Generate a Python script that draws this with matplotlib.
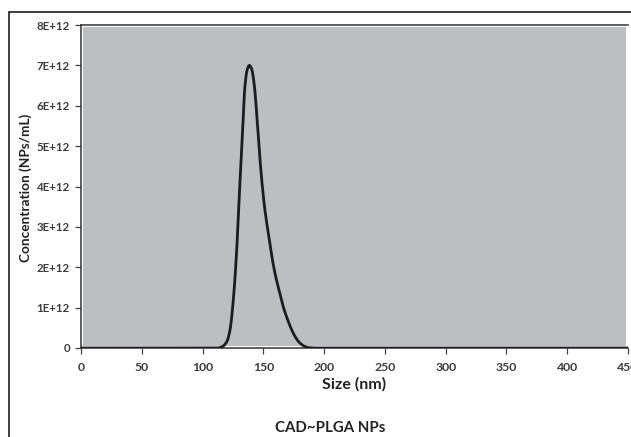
import numpy as np
import matplotlib
matplotlib.use("Agg")
import matplotlib.pyplot as plt
from matplotlib.patches import Rectangle
from matplotlib.ticker import FuncFormatter

plt.rcParams["font.family"] = ["Lato", "DejaVu Sans"]

# dimensione (nm) vs concentrazione (x1e12 NPs/mL)
size_nm = [0, 100, 112, 116, 120, 122.6, 125.3, 128.1, 130, 132.7, 134.9, 136.8,
           138.5, 140.3, 142.6, 145.9, 148, 150.5, 152.3, 154.1, 156.8, 159.6,
           163, 166.4, 170, 173.3, 176.8, 180.2, 184, 187, 195, 250, 450]
conc_e12 = [0, 0, 0, 0.03, 0.16, 0.45, 1.19, 2.43, 3.64, 5.2, 6.5, 6.9,
            7.0, 6.92, 6.5, 5.2, 4.4, 3.62, 3.2, 2.84, 2.3, 1.85,
            1.42, 1.02, 0.7, 0.45, 0.25, 0.12, 0.04, 0.01, 0, 0, 0]
x_ticks = [0, 50, 100, 150, 200, 250, 300, 350, 400, 450]
y_ticks_e12 = [0, 1, 2, 3, 4, 5, 6, 7, 8]

TXT = "#222222"
TICK = "#3c3c3c"
PLOT_BG = "#bdbec2"


def pchip(x, y, xn):
    """Interpolazione cubica monotona (come la linea smussata di Excel, senza overshoot)."""
    x = np.asarray(x, float); y = np.asarray(y, float)
    h = np.diff(x); d = np.diff(y) / h
    m = np.zeros_like(y)
    for k in range(1, len(x) - 1):
        if d[k - 1] * d[k] > 0:
            w1 = 2 * h[k] + h[k - 1]; w2 = h[k] + 2 * h[k - 1]
            m[k] = (w1 + w2) / (w1 / d[k - 1] + w2 / d[k])
    m[0] = d[0]; m[-1] = d[-1]
    i = np.clip(np.searchsorted(x, xn) - 1, 0, len(x) - 2)
    t = (xn - x[i]) / h[i]
    h00 = 2 * t**3 - 3 * t**2 + 1; h10 = t**3 - 2 * t**2 + t
    h01 = -2 * t**3 + 3 * t**2; h11 = t**3 - t**2
    return h00 * y[i] + h10 * h[i] * m[i] + h01 * y[i + 1] + h11 * h[i] * m[i + 1]


fig = plt.figure(figsize=(6.31, 4.37), dpi=100, facecolor="white")
ax = fig.add_axes([81 / 631, 1 - 348 / 437, 547 / 631, 323 / 437])
ax.set_facecolor("white")

# area grigia leggermente rientrata (bordo bianco sottile come in Excel)
ax.add_patch(Rectangle((0.004, 0.006), 0.992, 0.988, transform=ax.transAxes,
                       facecolor=PLOT_BG, edgecolor="none", zorder=0))

xs = np.linspace(0, 450, 3000)
ys = pchip(size_nm, conc_e12, xs) * 1e12
ax.plot(xs, ys, color="#1c1c1c", lw=2.0, solid_capstyle="round",
        solid_joinstyle="round", zorder=3)

ax.set_xlim(0, 450)
ax.set_ylim(0, 8e12)
ax.set_xticks(x_ticks)
ax.set_yticks([v * 1e12 for v in y_ticks_e12])
ax.yaxis.set_major_formatter(FuncFormatter(
    lambda v, p: "0" if v == 0 else f"{int(round(v / 1e12))}E+12"))

for s in ["left", "bottom", "top"]:
    ax.spines[s].set_color("#333333")
    ax.spines[s].set_linewidth(1.1)
ax.spines["right"].set_visible(False)

ax.tick_params(axis="both", direction="out", length=4, width=0.9, color="#444444",
               labelsize=8.3, labelcolor=TICK, pad=4)
for lab in ax.get_xticklabels() + ax.get_yticklabels():
    lab.set_fontweight("bold")
ax.tick_params(axis="x", labelsize=8.8, pad=6)

ax.set_xlabel("Size (nm)", fontsize=11.5, fontweight="bold", color=TXT, labelpad=3)
ax.set_ylabel("Concentration (NPs/mL)", fontsize=9.8, fontweight="bold", color=TXT)
ax.yaxis.set_label_coords(-0.090, 0.495)

fig.text(330 / 631, 1 - 428 / 437, "CAD~PLGA NPs", ha="center", va="center",
         fontsize=10.8, fontweight="bold", color=TXT)

# cornice esterna (esce a destra e in basso)
fig.add_artist(Rectangle((9 / 631, -0.1), 1.2, 1.1 - 12 / 437,
                         transform=fig.transFigure, facecolor="none",
                         edgecolor="#1e1e1e", lw=1.2, clip_on=False))

fig.savefig("out.png", dpi=100, facecolor="white")
